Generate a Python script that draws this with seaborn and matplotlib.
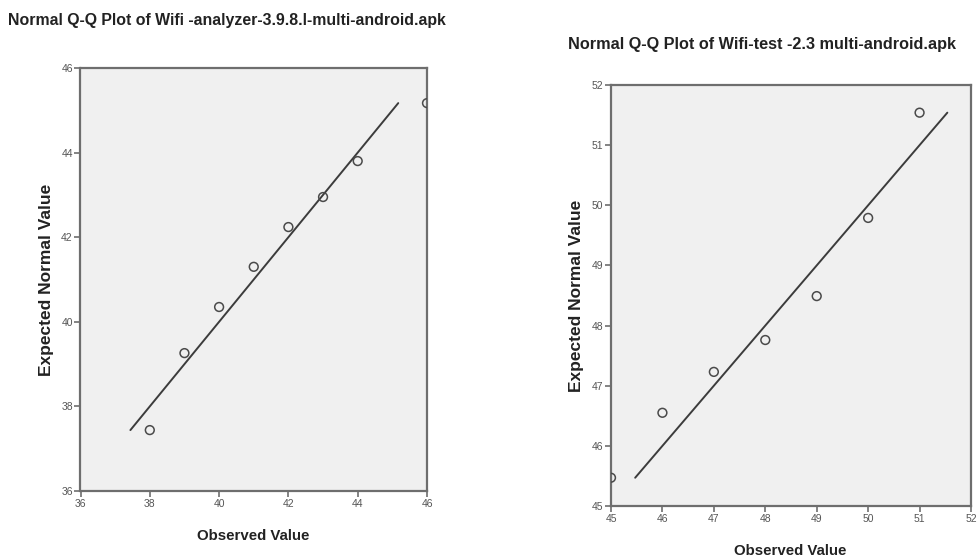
import matplotlib
matplotlib.use("Agg")
import matplotlib.pyplot as plt
import seaborn as sns
import pandas as pd

# values
analyzer_observed = [38, 39, 40, 41, 42, 43, 44, 46]
analyzer_expected = [37.44, 39.26, 40.35, 41.30, 42.24, 42.95, 43.80, 45.17]
analyzer_ticks = [36, 38, 40, 42, 44, 46]

wifitest_observed = [45, 46, 47, 48, 49, 50, 51]
wifitest_expected = [45.47, 46.55, 47.23, 47.76, 48.49, 49.79, 51.54]
wifitest_ticks = [45, 46, 47, 48, 49, 50, 51, 52]

titles = ["Normal Q-Q Plot of Wifi -analyzer-3.9.8.l-multi-android.apk",
          "Normal Q-Q Plot of Wifi-test -2.3 multi-android.apk"]

sns.set_theme(style="white")
plt.rcParams["font.family"] = ["Liberation Sans", "DejaVu Sans"]

W, H = 979, 558
fig = plt.figure(figsize=(W / 100, H / 100), dpi=100)


def px_axes(x0, y0, x1, y1):
    # pixel box (left, top, right, bottom) -> figure fraction
    return fig.add_axes([x0 / W, 1 - y1 / H, (x1 - x0) / W, (y1 - y0) / H])


def qq_panel(ax, observed, expected, ticks):
    df = pd.DataFrame({"obs": observed, "exp": expected})
    lo, hi = min(expected), max(expected)
    ref = pd.DataFrame({"x": [lo, hi], "y": [lo, hi]})
    ax.set_facecolor("#f0f0f0")
    sns.lineplot(data=ref, x="x", y="y", ax=ax, color="#3c3c3c", lw=1.4)
    sns.scatterplot(data=df, x="obs", y="exp", ax=ax, marker="o", s=40,
                    facecolor="none", edgecolor="#4a4a4a", linewidth=1.1, zorder=3)
    ax.set_xlim(ticks[0], ticks[-1])
    ax.set_ylim(ticks[0], ticks[-1])
    ax.set_xticks(ticks)
    ax.set_yticks(ticks)
    for sp in ax.spines.values():
        sp.set_color("#6e6e6e")
        sp.set_linewidth(1.6)
    ax.tick_params(axis="both", direction="out", length=4, width=1.2,
                   color="#6e6e6e", labelsize=7.5, labelcolor="#555555", pad=1.5,
                   bottom=True, left=True)
    ax.set_xlabel("")
    ax.set_ylabel("")


ax1 = px_axes(80.5, 68, 427, 491)
qq_panel(ax1, analyzer_observed, analyzer_expected, analyzer_ticks)
ax2 = px_axes(611, 85, 971, 506)
qq_panel(ax2, wifitest_observed, wifitest_expected, wifitest_ticks)

fig.text(8 / W, 1 - 20 / H, titles[0], ha="left", va="center",
         fontsize=11.4, fontweight="bold", color="#222222")
fig.text(568 / W, 1 - 45 / H, titles[1], ha="left", va="center",
         fontsize=11.7, fontweight="bold", color="#222222")

fig.text(47 / W, 1 - 280 / H, "Expected Normal Value", rotation=90, ha="center",
         va="center", fontsize=12.5, fontweight="bold", color="#222222")
fig.text(577 / W, 1 - 296 / H, "Expected Normal Value", rotation=90, ha="center",
         va="center", fontsize=12.5, fontweight="bold", color="#222222")
fig.text(253 / W, 1 - 536 / H, "Observed Value", ha="center", va="center",
         fontsize=10.8, fontweight="bold", color="#222222")
fig.text(790 / W, 1 - 551 / H, "Observed Value", ha="center", va="center",
         fontsize=10.8, fontweight="bold", color="#222222")

fig.savefig("out.png", dpi=100)
